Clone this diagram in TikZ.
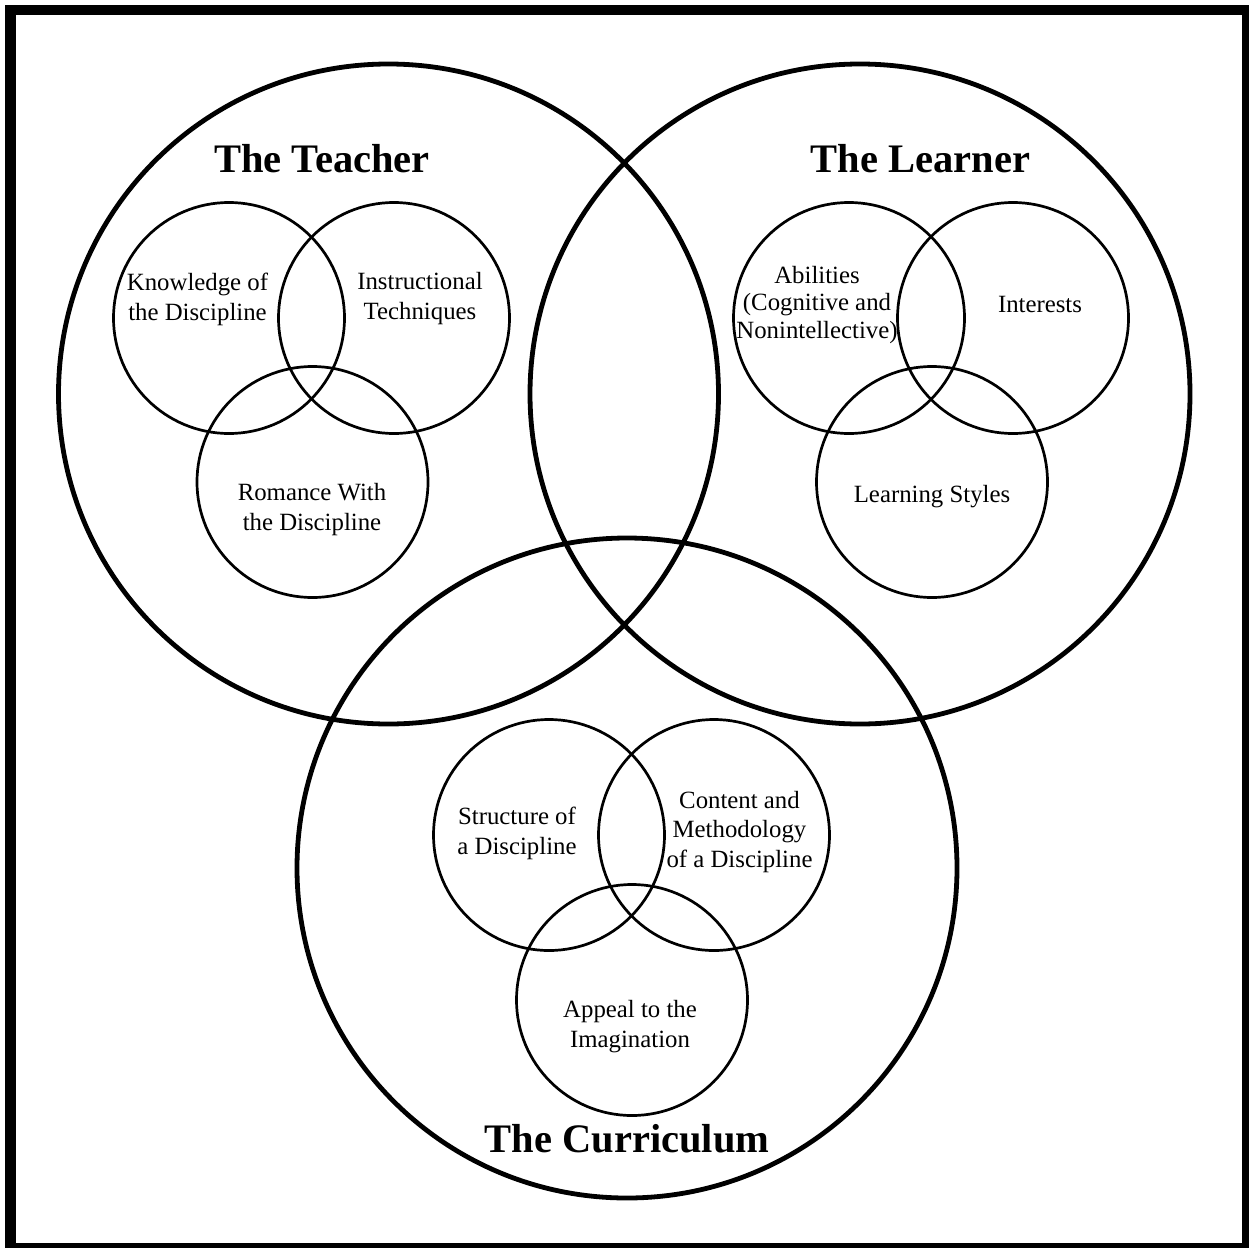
\documentclass[tikz,border=0pt]{standalone}
\usepackage{fontspec}
\setmainfont{Liberation Serif}
\begin{document}
\begin{tikzpicture}[x=1pt,y=-1pt,
  big/.style={draw,circle,line width=4.8pt,minimum size=660pt,inner sep=0pt},
  small/.style={draw,circle,line width=2.7pt,minimum size=231pt,inner sep=0pt},
  title/.style={font=\fontsize{40.5}{48}\selectfont\bfseries,anchor=base,inner sep=0pt},
  txt/.style={font=\fontsize{24.8}{29.5}\selectfont,align=center,anchor=base,inner sep=0pt},
  tighttxt/.style={font=\fontsize{24.8}{27.5}\selectfont,align=center,anchor=base,inner sep=0pt}]
\useasboundingbox (0,0) rectangle (1249,1247);
\draw[line width=10.5pt] (10.5,10.2) rectangle (1247.5,1248.5);
% big circles
\node[big] (teacher) at (388.5,394) {};
\node[big] (learner) at (860,394) {};
\node[big] (curriculum) at (627,868) {};
% teacher small circles
\node[small] (know) at (229,318) {};
\node[small] (instr) at (394,318) {};
\node[small] (rom) at (312.5,482) {};
% learner small circles
\node[small] (abil) at (849,318) {};
\node[small] (inter) at (1013,318) {};
\node[small] (lstyle) at (932,482) {};
% curriculum small circles
\node[small] (struct) at (549,835) {};
\node[small] (content) at (714,835) {};
\node[small] (appeal) at (632,1000) {};
% titles
\node[title] (tteacher) at (322,172) {The Teacher};
\node[title] (tlearner) at (920.5,172) {The Learner};
\node[title] (tcurr) at (627,1152) {The Curriculum};
% labels (anchor = baseline of the last line)
\node[txt] (lknow) at (197.5,320) {Knowledge of\\the Discipline};
\node[txt] (linstr) at (420,319) {Instructional\\Techniques};
\node[txt] (lrom) at (312,530) {Romance With\\the Discipline};
\node[tighttxt] (labil) at (817,338) {Abilities\\(Cognitive and\\Nonintellective)};
\node[txt] (linter) at (1040,312) {Interests};
\node[txt] (llstyle) at (932,502) {Learning Styles};
\node[txt] (lstruct) at (517,854) {Structure of\\a Discipline};
\node[txt] (lcontent) at (739.5,867) {Content and\\Methodology\\of a Discipline};
\node[txt] (lappeal) at (630,1047) {Appeal to the\\Imagination};
\end{tikzpicture}
\end{document}
